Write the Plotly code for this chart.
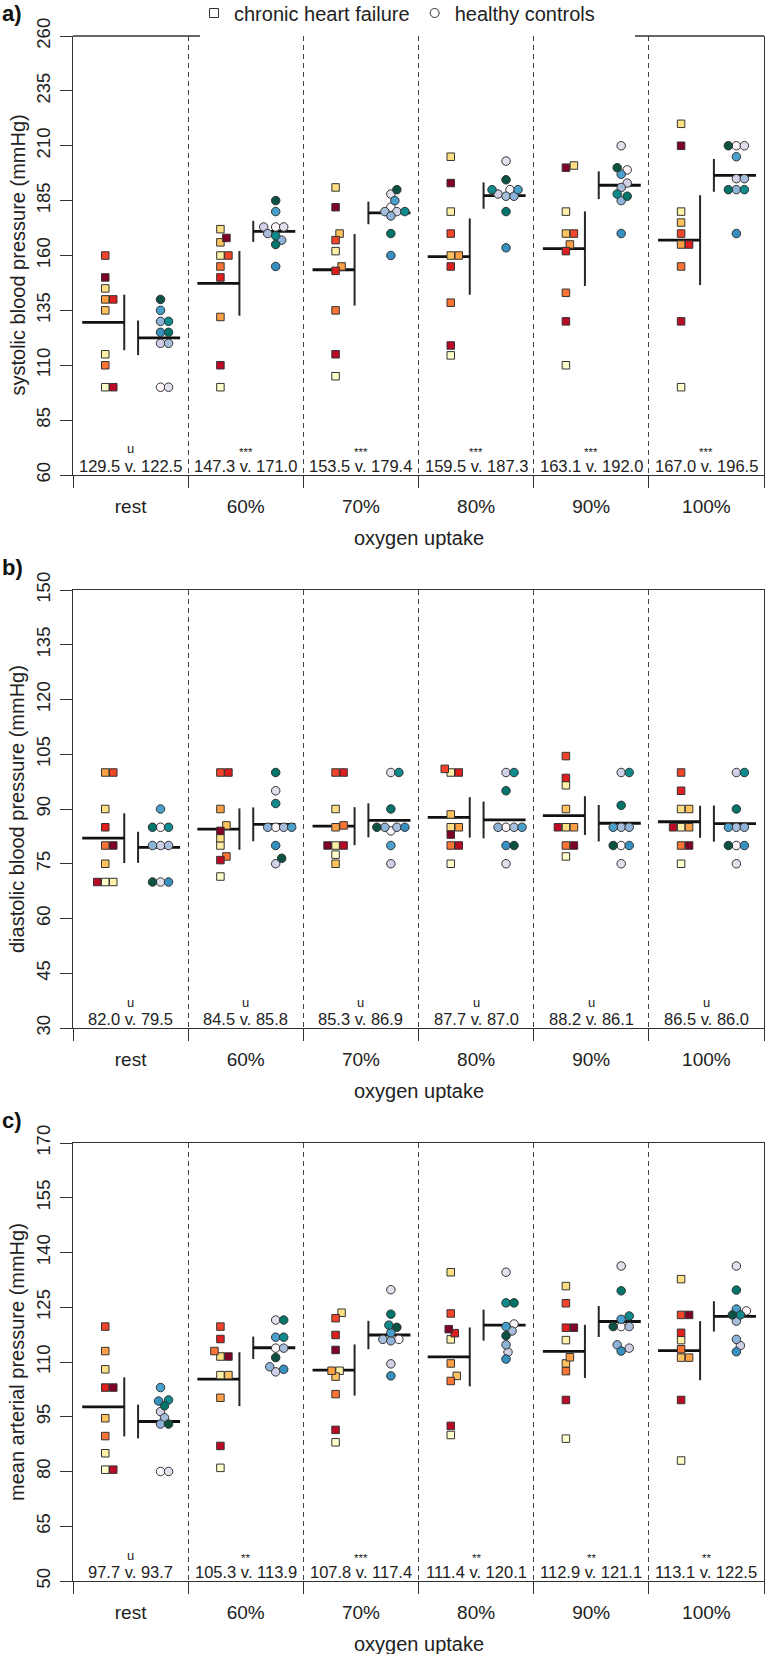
import numpy as np
import plotly.graph_objects as go

W, H = 766, 1654
categories = ["rest", "60%", "70%", "80%", "90%", "100%"]

chf_colors = ["#FFFFCC", "#FFF0A8", "#FEDF83", "#FEC35E", "#FD9F44",
              "#FC7434", "#F3452A", "#DF1F1F", "#BC0A26", "#800026"]
hc_colors = ["#FFF7FB", "#E3E0EE", "#D0D1E6", "#A6BDDB", "#8EB3D8",
             "#49A0CD", "#3690C0", "#0E8A8C", "#02756A", "#0B5243"]

# systolic blood pressure, one list per workload, patient order fixed
sbp_chf = [[100, 115, 145, 135, 140, 110, 160, 140, 100, 150],
           [100, 160, 172, 166, 132, 155, 160, 150, 110, 168],
           [105, 162, 191, 170, 155, 135, 167, 153, 115, 182],
           [114.5, 180, 205, 160, 160, 138.5, 170, 155, 119, 193],
           [110, 180, 201, 170, 165, 143, 170, 162, 130, 200],
           [100, 180, 220, 175, 165, 155, 170, 165, 130, 210]]
sbp_hc = [[100, 100, 120, 120, 130, 135, 125, 130, 125, 140],
          [173, 173, 173, 170, 167, 180, 155, 169, 165, 185],
          [182, 188, 180, 180, 178, 185, 160, 180, 170, 190],
          [190, 203, 188, 187, 187, 190, 163.5, 190, 180, 194.5],
          [199, 210, 193, 191, 185, 197, 170, 188, 187, 200],
          [210, 210, 195, 195, 190, 205, 170, 190, 190, 210]]
sbp_mean_chf = [129.5, 147.3, 153.5, 159.5, 163.1, 167.0]
sbp_mean_hc = [122.5, 171.0, 179.4, 187.3, 192.0, 196.5]
sbp_sig = ["u", "***", "***", "***", "***", "***"]

# diastolic blood pressure
dbp_chf = [[70, 70, 90, 75, 100, 80, 100, 85, 70, 80],
           [71.5, 80, 82, 85.5, 90, 77, 100, 100, 76, 84],
           [77.5, 80, 90, 75, 85, 85.5, 100, 100, 80, 80],
           [75, 100, 85, 88.5, 85, 80, 101, 100, 80, 83],
           [77, 96.5, 85, 90, 85, 80, 104.5, 98.5, 85, 80],
           [75, 85, 90, 90, 85, 80, 100, 95, 85, 80]]
dbp_hc = [[85, 70, 80, 80, 80, 90, 70, 85, 85, 70],
          [85, 95, 75, 85, 85, 85, 80, 91.5, 100, 76.5],
          [84, 100, 75, 85, 85, 80, 85, 100, 90, 85],
          [85, 75, 100, 85, 85, 85, 80, 100, 95, 80],
          [80, 75, 100, 85, 85, 85, 80, 100, 91, 80],
          [80, 75, 100, 85, 85, 85, 80, 100, 90, 80]]
dbp_mean_chf = [82.0, 84.5, 85.3, 87.7, 88.2, 86.5]
dbp_mean_hc = [79.5, 85.8, 86.9, 87.0, 86.1, 86.0]
dbp_sig = ["u", "u", "u", "u", "u", "u"]

# mean arterial pressure
map_chf = [[80.5, 85, 108, 94.6, 113, 89.7, 119.7, 103, 80.5, 103],
           [81, 106.4, 111.5, 106.4, 100.2, 113, 119.7, 116.3, 87, 111.5],
           [88, 107.6, 123.5, 106, 107.6, 101.2, 122, 117.4, 91.4, 113.3],
           [90, 116.2, 134.6, 106.2, 109.6, 104.8, 123.3, 117.9, 92.5, 119],
           [89, 116, 130.8, 109.6, 111.3, 107.5, 126.1, 119.4, 99.6, 119.4],
           [83, 116, 132.7, 111.2, 111.2, 113.5, 122.9, 118, 99.6, 122.9]]
map_hc = [[80, 80, 96.4, 94.7, 93, 103, 99.3, 99.6, 98, 93],
          [113.8, 121.5, 107.3, 113.8, 108.7, 116.8, 108, 116.8, 121.5, 111.2],
          [116.2, 129.8, 109.5, 116.2, 115.8, 118, 106.2, 120.1, 123.1, 119.5],
          [120.4, 134.6, 112.7, 118.5, 114.7, 119.7, 110.8, 126.2, 126.2, 117.2],
          [119.7, 136.3, 113.8, 119.7, 114.7, 121.7, 113, 122.6, 129.5, 119.7],
          [124, 136.3, 114.5, 121.2, 116.2, 124.5, 112.8, 122.9, 129.7, 122.9]]
map_mean_chf = [97.7, 105.3, 107.8, 111.4, 112.9, 113.1]
map_mean_hc = [93.7, 113.9, 117.4, 120.1, 121.1, 122.5]
map_sig = ["u", "**", "***", "**", "**", "**"]

panels = [
    dict(label="a)", ytitle="systolic blood pressure (mmHg)", chf=sbp_chf, hc=sbp_hc,
         mc=sbp_mean_chf, mh=sbp_mean_hc, sig=sbp_sig, yr=[60, 260], dt=25, top=36, bot=475),
    dict(label="b)", ytitle="diastolic blood pressure (mmHg)", chf=dbp_chf, hc=dbp_hc,
         mc=dbp_mean_chf, mh=dbp_mean_hc, sig=dbp_sig, yr=[30, 150], dt=15, top=590, bot=1028),
    dict(label="c)", ytitle="mean arterial pressure (mmHg)", chf=map_chf, hc=map_hc,
         mc=map_mean_chf, mh=map_mean_hc, sig=map_sig, yr=[50, 170], dt=15, top=1143, bot=1581),
]

XL, XR = 73, 764
PX_PER_X = (XR - XL) / 6.0
FONT = "Liberation Sans, Arial, sans-serif"
TXT = "#222222"
AX = "#333333"


def py(p):
    return 1 - p / H


def swarm(vals, center, ppy, d=7.0, step=2.0):
    vals = np.asarray(vals, float)
    xs = np.zeros(len(vals))
    placed = []
    for i in np.argsort(vals, kind="stable"):
        y = vals[i] * ppy
        k = 0
        while True:
            for s in ([0] if k == 0 else [k, -k]):
                x = s * step
                if all((x - a) ** 2 + (y - b) ** 2 >= d * d for a, b in placed):
                    break
            else:
                k += 1
                continue
            break
        placed.append((x, y))
        xs[i] = center + x / PX_PER_X
    return xs


fig = go.Figure()
annotations = []
shapes = []

for pi, P in enumerate(panels):
    n = "" if pi == 0 else str(pi + 1)
    xa, ya = "x" + n, "y" + n
    ppy = (P["bot"] - P["top"]) / (P["yr"][1] - P["yr"][0])

    # mean and 95% CI lines
    for grp, data, means, mx0, mx1, cix in (("chf", P["chf"], P["mc"], 0.08, 0.445, 0.445),
                                            ("hc", P["hc"], P["mh"], 0.565, 0.93, 0.565)):
        lx, ly, cx, cy = [], [], [], []
        for ci, vals in enumerate(data):
            v = np.asarray(vals, float)
            m = means[ci]
            h = 1.96 * v.std() / np.sqrt(len(v))
            lx += [ci + mx0, ci + mx1, None]
            ly += [m, m, None]
            cx += [ci + cix, ci + cix, None]
            cy += [m - h, m + h, None]
        fig.add_trace(go.Scatter(x=cx, y=cy, mode="lines", line=dict(color="#262626", width=2),
                                 xaxis=xa, yaxis=ya, showlegend=False, hoverinfo="skip"))
        fig.add_trace(go.Scatter(x=lx, y=ly, mode="lines", line=dict(color="#111111", width=2.8),
                                 xaxis=xa, yaxis=ya, showlegend=False, hoverinfo="skip"))

    # points
    for grp, data, center, sym, size, cols in (("chf", P["chf"], 0.28, "square", 7.5, chf_colors),
                                                ("hc", P["hc"], 0.76, "circle", 8.5, hc_colors)):
        X, Y, C = [], [], []
        for ci, vals in enumerate(data):
            xs = swarm(vals, ci + center, ppy)
            X += list(xs)
            Y += list(vals)
            C += cols[:len(vals)]
        fig.add_trace(go.Scatter(x=X, y=Y, mode="markers", xaxis=xa, yaxis=ya, showlegend=False,
                                 marker=dict(symbol=sym, size=size, color=C,
                                             line=dict(color="#333333", width=1)),
                                 hoverinfo="skip"))

    dom_y = [py(P["bot"]), py(P["top"])]
    xkw = dict(domain=[XL / W, XR / W], range=[0, 6], anchor=ya,
               tickvals=[i + 0.5 for i in range(6)], ticktext=categories, ticks="",
               tickfont=dict(family=FONT, size=19, color=TXT), ticklabelstandoff=14,
               showline=True, linecolor=AX, linewidth=1.3, mirror=(pi != 0),
               showgrid=False, zeroline=False,
               minor=dict(tickvals=list(range(7)), ticks="outside", ticklen=12, tickwidth=1.3,
                          tickcolor=AX, showgrid=True, gridcolor="#444444", gridwidth=1.4,
                          griddash="5px,4px"))
    ykw = dict(domain=dom_y, range=P["yr"], anchor=xa,
               tickvals=list(range(P["yr"][0], P["yr"][1] + 1, P["dt"])),
               ticks="outside", ticklen=12, tickwidth=1.3, tickcolor=AX, tickangle=-90,
               tickfont=dict(family=FONT, size=18.5, color=TXT), ticklabelstandoff=2,
               showline=True, linecolor=AX, linewidth=1.3, mirror=True,
               showgrid=False, zeroline=False)
    fig.update_layout(**{("xaxis" + n): xkw, ("yaxis" + n): ykw})

    # texts
    for ci in range(6):
        annotations.append(dict(x=ci + 0.5, xref=xa, y=py(P["bot"] - 9), yref="paper",
                                text="%.1f v. %.1f" % (P["mc"][ci], P["mh"][ci]),
                                showarrow=False, font=dict(family=FONT, size=16.5, color=TXT),
                                xanchor="center", yanchor="middle"))
        s = P["sig"][ci]
        annotations.append(dict(x=ci + 0.5, xref=xa,
                                y=py(P["bot"] - (26 if s == "u" else 23)), yref="paper",
                                text=s, showarrow=False,
                                font=dict(family=FONT, size=13 if s == "u" else 11.5, color=TXT),
                                xanchor="center", yanchor="middle"))
    annotations.append(dict(x=(XL + XR) / 2 / W, xref="paper", y=py(P["bot"] + 63), yref="paper",
                            text="oxygen uptake", showarrow=False,
                            font=dict(family=FONT, size=20, color=TXT),
                            xanchor="center", yanchor="middle"))
    annotations.append(dict(x=17 / W, xref="paper", y=py((P["top"] + P["bot"]) / 2), yref="paper",
                            text=P["ytitle"], textangle=-90, showarrow=False,
                            font=dict(family=FONT, size=20, color=TXT),
                            xanchor="center", yanchor="middle"))
    annotations.append(dict(x=0 / W, xref="paper", y=py(P["top"] - 23), yref="paper",
                            text="<b>%s</b>" % P["label"], showarrow=False,
                            font=dict(family=FONT, size=22, color="#111111"),
                            xanchor="left", yanchor="middle"))

# top border of panel a, interrupted by the legend box
for x0, x1 in ((XL, 200), (635, XR)):
    shapes.append(dict(type="line", xref="paper", yref="paper", x0=x0 / W, x1=x1 / W,
                       y0=py(36), y1=py(36), line=dict(color=AX, width=1.3)))

# legend entries
fig.add_trace(go.Scatter(x=[None], y=[None], mode="markers", name="chronic heart failure",
                         marker=dict(symbol="square", size=9, color="white",
                                     line=dict(color="#333333", width=1))))
fig.add_trace(go.Scatter(x=[None], y=[None], mode="markers", name="healthy controls",
                         marker=dict(symbol="circle", size=9, color="white",
                                     line=dict(color="#333333", width=1))))

fig.update_layout(
    width=W, height=H, margin=dict(l=0, r=0, t=0, b=0, autoexpand=False),
    paper_bgcolor="white", plot_bgcolor="white",
    annotations=annotations, shapes=shapes,
    legend=dict(orientation="h", x=194 / W, xanchor="left", y=py(13), yanchor="middle",
                font=dict(family=FONT, size=20, color=TXT), bgcolor="rgba(0,0,0,0)",
                itemwidth=30, tracegroupgap=0),
)

fig.write_html("out.html", config={"displayModeBar": False},
               post_script="document.body.style.margin='0px';document.body.style.overflow='hidden';")
